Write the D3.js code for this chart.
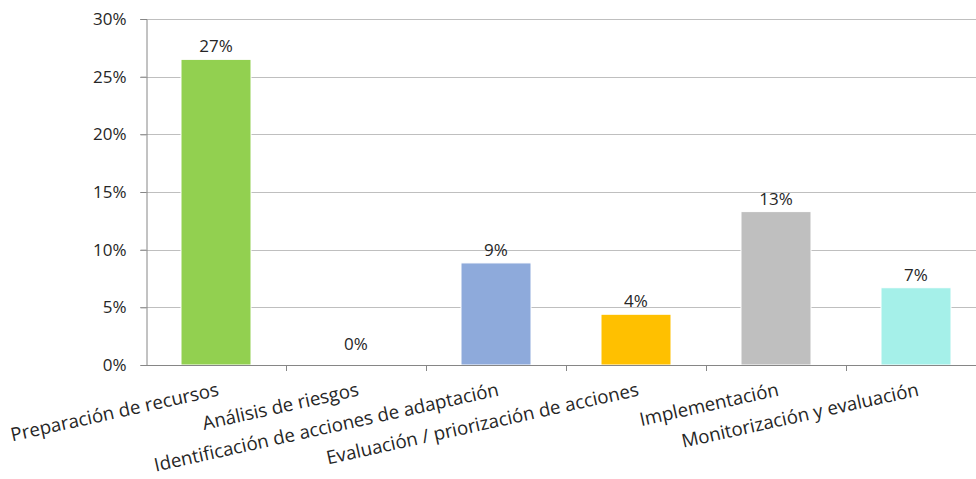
<!DOCTYPE html>
<html>
<head>
<meta charset="utf-8">
<script src="https://cdn.jsdelivr.net/npm/d3@7"></script>
<style>
  body { margin: 0; background: #fff; }
  svg { display: block; font-family: "Open Sans", Lato, sans-serif; }
</style>
</head>
<body>
<svg width="976" height="479"></svg>
<script>
const categories = [
    'Preparación de recursos',
    'Análisis de riesgos',
    'Identificación de acciones de adaptación',
    'Evaluación / priorización de acciones',
    'Implementación',
    'Monitorización y evaluación'
];
const values = [0.265, 0, 0.0885, 0.044, 0.133, 0.067];
const valueLabels = ['27%', '0%', '9%', '4%', '13%', '7%'];
const barColors = ['#92d050', '#92d050', '#8eaadb', '#ffc000', '#bfbfbf', '#a5f0e9'];
const yTicks = [0, 0.05, 0.10, 0.15, 0.20, 0.25, 0.30];

const GRID_COLOR = '#bfbfbf';
const AXIS_COLOR = '#868686';
const TEXT_COLOR = '#262626';
const FONT_SIZE = 17;

var svg = d3.select('svg');

var x = d3.scaleBand()
    .domain(categories)
    .range([146, 986])
    .paddingInner(0.5)
    .paddingOuter(0.25);

var y = d3.scaleLinear()
    .domain([0, 0.30])
    .range([365, 19]);

/* grid */
svg.append('g')
    .selectAll('line')
    .data(yTicks.filter(d => d > 0))
    .join('line')
    .attr('x1', 140)
    .attr('x2', 976)
    .attr('y1', d => Math.round(y(d)) + 0.5)
    .attr('y2', d => Math.round(y(d)) + 0.5)
    .attr('stroke', GRID_COLOR);

/* bars */
svg.append('g')
    .selectAll('rect')
    .data(values)
    .join('rect')
    .attr('x', (d, i) => x(categories[i]))
    .attr('width', x.bandwidth())
    .attr('y', d => y(d))
    .attr('height', d => y(0) - y(d))
    .attr('fill', (d, i) => barColors[i])
    .attr('stroke', '#fff')
    .attr('stroke-width', d => d > 0 ? 1 : 0);

/* y axis */
var yAxis = svg.append('g')
    .attr('transform', 'translate(146.5,0)')
    .call(d3.axisLeft(y).tickValues(yTicks).tickFormat(d3.format('.0%')).tickSize(6).tickPadding(14));
yAxis.select('.domain').attr('stroke', AXIS_COLOR);
yAxis.selectAll('.tick line').attr('stroke', AXIS_COLOR);
yAxis.selectAll('.tick text')
    .attr('font-size', FONT_SIZE)
    .attr('fill', TEXT_COLOR)
    .attr('font-family', '"Open Sans", sans-serif');

/* x axis */
var bounds = categories.slice(1).map(c => x(c) - x.step() * x.paddingInner() / 2);
var xAxisG = svg.append('g');
xAxisG.append('line')
    .attr('x1', 146).attr('x2', 976)
    .attr('y1', 365.5).attr('y2', 365.5)
    .attr('stroke', AXIS_COLOR);
xAxisG.selectAll('line.tk')
    .data(bounds)
    .join('line')
    .attr('class', 'tk')
    .attr('x1', d => Math.round(d) + 0.5)
    .attr('x2', d => Math.round(d) + 0.5)
    .attr('y1', 365).attr('y2', 371)
    .attr('stroke', AXIS_COLOR);

// category labels, rotated, right end under the bar centre
xAxisG.selectAll('text')
    .data(categories)
    .join('text')
    .attr('transform', d => 'translate(' + (x(d) + x.bandwidth() / 2) + ',379) rotate(-12.5)')
    .attr('text-anchor', 'end')
    .attr('dy', '0.9em')
    .attr('font-size', 18.7)
    .attr('fill', TEXT_COLOR)
    .text(d => d);

/* value labels */
svg.append('g')
    .selectAll('text')
    .data(values)
    .join('text')
    .attr('x', (d, i) => x(categories[i]) + x.bandwidth() / 2)
    .attr('y', d => Math.min(y(d) - 7, 350))
    .attr('text-anchor', 'middle')
    .attr('font-size', FONT_SIZE)
    .attr('fill', TEXT_COLOR)
    .text((d, i) => valueLabels[i]);
</script>
</body>
</html>
